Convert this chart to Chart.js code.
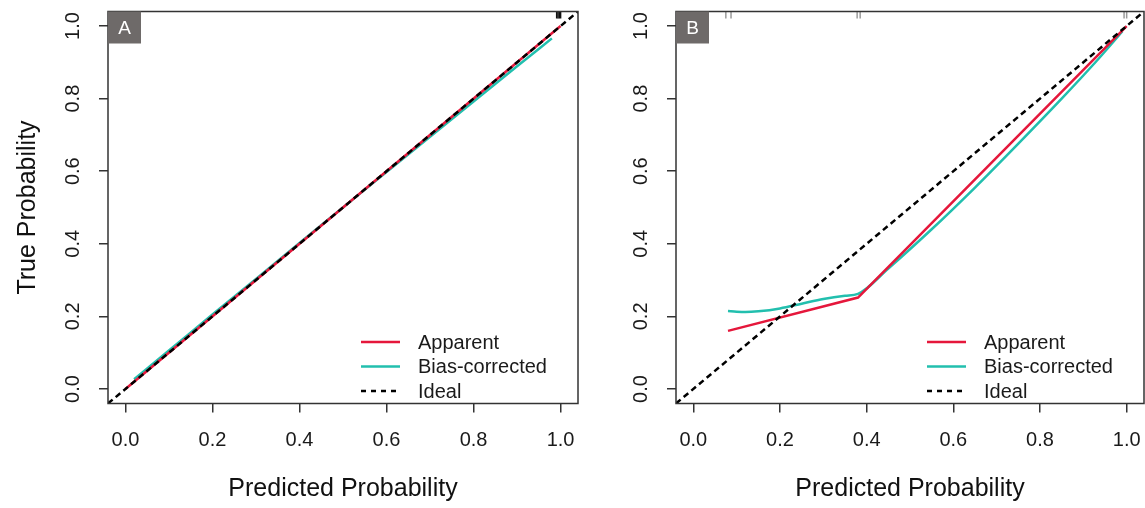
<!DOCTYPE html>
<html><head><meta charset="utf-8">
<script src="https://cdn.jsdelivr.net/npm/chart.js@4"></script>
<style>
html,body{margin:0;padding:0;background:#fff;width:1145px;height:508px;overflow:hidden}
#ca{position:absolute;left:0;top:0}
#cb{position:absolute;left:600px;top:0}
</style></head><body>
<canvas id="ca" width="600" height="508"></canvas>
<canvas id="cb" width="545" height="508"></canvas>
<script>
// ---- data ----
const tickValues = [0, 0.2, 0.4, 0.6, 0.8, 1.0];
const tickLabels = ['0.0', '0.2', '0.4', '0.6', '0.8', '1.0'];
const axisRange = [-0.04, 1.04];
const seriesNames = ['Apparent', 'Bias-corrected', 'Ideal'];
const panelLabels = ['A', 'B'];
const xTitle = 'Predicted Probability';
const yTitle = 'True Probability';

// Panel A
const apparentX_A = [0.0, 0.25, 0.5, 0.75, 1.0];
const apparentY_A = [0.0, 0.25, 0.5, 0.75, 1.0];
const biasX_A = [0.02, 0.1, 0.2, 0.3, 0.4, 0.5, 0.6, 0.7, 0.8, 0.9, 0.98];
const biasY_A = [0.027, 0.106, 0.205, 0.303, 0.402, 0.5, 0.598, 0.695, 0.792, 0.889, 0.966];
const rug_A = [0.991, 0.994, 0.997, 1.0];

// Panel B
const apparentX_B = [0.08, 0.38, 1.0];
const apparentY_B = [0.16, 0.252, 1.0];
const biasX_B = [0.08, 0.1, 0.12, 0.15, 0.2, 0.25, 0.3, 0.35, 0.38, 0.45, 0.55, 0.65, 0.75, 0.85, 0.93, 0.99];
const biasY_B = [0.215, 0.213, 0.212, 0.214, 0.222, 0.235, 0.248, 0.257, 0.262, 0.332, 0.44, 0.555, 0.676, 0.80, 0.903, 0.985];
const rug_B = [0.075, 0.087, 0.378, 0.385, 0.994, 1.0];

const idealX = [axisRange[0], axisRange[1]];
const idealY = [axisRange[0], axisRange[1]];

// ---- styles ----
const FAMILY = "'Liberation Sans', Arial, sans-serif";
const RED = '#e5173b';
const TEAL = '#22bfae';
const AXIS = '#333333';

const pts = (xs, ys) => xs.map((x, i) => ({x: x, y: ys[i]}));

const panelPlugin = {
  id: 'panelDeco',
  afterDatasetsDraw(chart, args, opts) {
    const {ctx, chartArea: a, scales} = chart;
    ctx.save();
    // rug
    ctx.strokeStyle = opts.rugColor;
    ctx.lineWidth = 1.5;
    opts.rug.forEach(v => {
      const px = scales.x.getPixelForValue(v);
      ctx.beginPath();
      ctx.moveTo(px, a.top);
      ctx.lineTo(px, a.top + 7);
      ctx.stroke();
    });
    // box
    ctx.strokeStyle = AXIS;
    ctx.lineWidth = 1.5;
    ctx.strokeRect(a.left, a.top, a.right - a.left, a.bottom - a.top);
    // panel label
    ctx.fillStyle = '#6e6a69';
    ctx.fillRect(a.left, a.top, 33, 32);
    ctx.fillStyle = '#ffffff';
    ctx.font = '19px ' + FAMILY;
    ctx.textAlign = 'center';
    ctx.textBaseline = 'middle';
    ctx.fillText(opts.label, a.left + 16.5, a.top + 17);
    // legend
    const cols = [RED, TEAL, '#000000'];
    ctx.font = '20px ' + FAMILY;
    ctx.textAlign = 'left';
    for (let i = 0; i < 3; i++) {
      const y = a.bottom - 61.5 + i * 24.5;
      ctx.strokeStyle = cols[i];
      ctx.lineWidth = 2.5;
      ctx.setLineDash(i === 2 ? [5, 5] : []);
      ctx.beginPath();
      ctx.moveTo(a.right - 217, y);
      ctx.lineTo(a.right - 178, y);
      ctx.stroke();
      ctx.setLineDash([]);
      ctx.fillStyle = '#1a1a1a';
      ctx.fillText(seriesNames[i], a.right - 160, y + 1);
    }
    ctx.restore();
  }
};

function makeChart(id, appX, appY, bX, bY, rug, rugColor, label, yAxisWidth, padRight, showYTitle) {
  return new Chart(document.getElementById(id), {
    type: 'line',
    data: {
      datasets: [
        {label: seriesNames[0], data: pts(appX, appY), borderColor: RED, borderWidth: 2.5, pointRadius: 0, tension: 0, order: 1},
        {label: seriesNames[1], data: pts(bX, bY), borderColor: TEAL, borderWidth: 2.5, pointRadius: 0, cubicInterpolationMode: 'monotone', order: 2},
        {label: seriesNames[2], data: pts(idealX, idealY), borderColor: '#000000', borderWidth: 2.5, borderDash: [6, 4], pointRadius: 0, order: 0}
      ]
    },
    options: {
      responsive: false,
      animation: false,
      layout: {padding: {left: 0, top: 11.5, right: padRight, bottom: 0}},
      plugins: {
        legend: {display: false},
        tooltip: {enabled: false},
        panelDeco: {rug: rug, rugColor: rugColor, label: label}
      },
      scales: {
        x: {
          type: 'linear', min: axisRange[0], max: axisRange[1],
          afterBuildTicks: s => { s.ticks = tickValues.map(v => ({value: v})); },
          afterFit: s => { s.height = 104.5; s.paddingLeft = 0; s.paddingRight = 0; },
          grid: {drawOnChartArea: false, drawTicks: true, tickLength: 9, color: AXIS, lineWidth: 1.5},
          border: {display: false},
          ticks: {font: {family: FAMILY, size: 20}, color: '#1a1a1a', padding: 16, maxRotation: 0, minRotation: 0, autoSkip: false,
                  callback: (v, i) => tickLabels[i]},
          title: {display: true, text: xTitle, font: {family: FAMILY, size: 25}, color: '#111', padding: {top: 0, bottom: 4}}
        },
        y: {
          type: 'linear', min: axisRange[0], max: axisRange[1],
          afterBuildTicks: s => { s.ticks = tickValues.map(v => ({value: v})); },
          afterFit: s => { s.width = yAxisWidth; s.paddingTop = 0; s.paddingBottom = 0; },
          grid: {drawOnChartArea: false, drawTicks: true, tickLength: 9, color: AXIS, lineWidth: 1.5},
          border: {display: false},
          ticks: {font: {family: FAMILY, size: 20}, color: '#1a1a1a', padding: 12, minRotation: 90, maxRotation: 90, crossAlign: 'center', autoSkip: false,
                  callback: (v, i) => tickLabels[i]},
          title: {display: showYTitle, text: yTitle, font: {family: FAMILY, size: 25}, color: '#111', padding: {top: 13, bottom: 0}}
        }
      }
    },
    plugins: [panelPlugin]
  });
}

makeChart('ca', apparentX_A, apparentY_A, biasX_A, biasY_A, rug_A, '#111111', panelLabels[0], 108, 22, true);
makeChart('cb', apparentX_B, apparentY_B, biasX_B, biasY_B, rug_B, '#9a9a9a', panelLabels[1], 76, 1, false);
</script>
</body></html>
